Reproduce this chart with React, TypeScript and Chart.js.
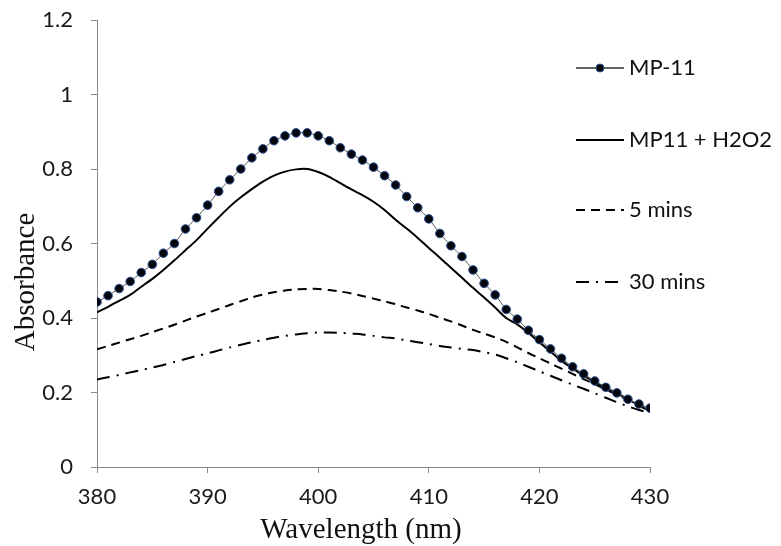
import React, { useEffect, useRef } from "react";
import { Chart, registerables } from "chart.js";

Chart.register(...registerables);

const wavelengths: number[] = [
  380, 381, 382, 383, 384, 385, 386, 387, 388, 389, 390, 391, 392, 393, 394, 395, 396, 397, 398, 399,
  400, 401, 402, 403, 404, 405, 406, 407, 408, 409, 410, 411, 412, 413, 414, 415, 416, 417, 418, 419,
  420, 421, 422, 423, 424, 425, 426, 427, 428, 429, 430,
];

const mp11: number[] = [
  0.443, 0.46, 0.479, 0.498, 0.522, 0.544, 0.574, 0.6, 0.639, 0.669, 0.703, 0.74, 0.771, 0.8, 0.83, 0.854,
  0.876, 0.889, 0.897, 0.897, 0.889, 0.876, 0.857, 0.84, 0.824, 0.805, 0.782, 0.757, 0.726, 0.696, 0.666,
  0.627, 0.594, 0.565, 0.529, 0.493, 0.462, 0.423, 0.397, 0.367, 0.342, 0.317, 0.292, 0.269, 0.25, 0.231,
  0.214, 0.199, 0.182, 0.169, 0.158,
];

const mp11H2O2: number[] = [
  0.415, 0.43, 0.446, 0.462, 0.484, 0.505, 0.529, 0.555, 0.582, 0.609, 0.64, 0.67, 0.699, 0.724, 0.746,
  0.766, 0.782, 0.793, 0.799, 0.8, 0.792, 0.779, 0.762, 0.745, 0.73, 0.712, 0.69, 0.664, 0.64, 0.615, 0.588,
  0.562, 0.535, 0.508, 0.481, 0.455, 0.428, 0.4, 0.383, 0.36, 0.335, 0.31, 0.285, 0.265, 0.245, 0.228, 0.213,
  0.198, 0.182, 0.165, 0.15,
];

const mins5: number[] = [
  0.316, 0.325, 0.334, 0.343, 0.352, 0.362, 0.372, 0.382, 0.393, 0.404, 0.414, 0.424, 0.435, 0.445, 0.455,
  0.463, 0.469, 0.474, 0.477, 0.478, 0.478, 0.475, 0.471, 0.466, 0.459, 0.452, 0.445, 0.437, 0.428, 0.42,
  0.411, 0.401, 0.391, 0.38, 0.368, 0.358, 0.348, 0.336, 0.321, 0.306, 0.292, 0.278, 0.264, 0.25, 0.236,
  0.222, 0.208, 0.194, 0.18, 0.166, 0.152,
];

const mins30: number[] = [
  0.235, 0.241, 0.247, 0.254, 0.26, 0.267, 0.274, 0.282, 0.29, 0.298, 0.305, 0.313, 0.321, 0.328, 0.335,
  0.341, 0.347, 0.352, 0.356, 0.359, 0.361, 0.361, 0.36, 0.358, 0.356, 0.352, 0.348, 0.345, 0.34, 0.335,
  0.33, 0.325, 0.321, 0.317, 0.314, 0.308, 0.302, 0.292, 0.281, 0.269, 0.257, 0.245, 0.233, 0.221, 0.21,
  0.198, 0.186, 0.174, 0.163, 0.153, 0.145,
];

const seriesLabels: string[] = ["MP-11", "MP11 + H2O2", "5 mins", "30 mins"];
const legendRows: number[] = [68, 140, 210, 282];
const xTitle = "Wavelength (nm)";
const yTitle = "Absorbance";

const toPoints = (ys: number[]) => ys.map((y, i) => ({ x: wavelengths[i], y }));

const TICK_FONT = { family: "Lato, 'Open Sans', sans-serif", size: 22 };
const TITLE_FONT = { family: "'Liberation Serif', 'Times New Roman', serif", size: 29 };

const legendPlugin = {
  id: "customLegend",
  afterDraw(chart: any) {
    const ctx = chart.ctx;
    const x0 = 576;
    const x1 = 624;
    chart.data.datasets.forEach((ds: any, i: number) => {
      const y = legendRows[i];
      ctx.save();
      ctx.strokeStyle = i === 0 ? "#333" : "#000";
      ctx.lineWidth = i === 0 ? 1.5 : 2;
      ctx.setLineDash(ds.borderDash || []);
      ctx.beginPath();
      ctx.moveTo(x0, y);
      ctx.lineTo(x1, y);
      ctx.stroke();
      ctx.setLineDash([]);
      if (i === 0) {
        ctx.beginPath();
        ctx.arc((x0 + x1) / 2, y, 4, 0, Math.PI * 2);
        ctx.fillStyle = ds.pointBackgroundColor;
        ctx.fill();
        ctx.lineWidth = 1;
        ctx.strokeStyle = ds.pointBorderColor;
        ctx.stroke();
      }
      ctx.fillStyle = "#111";
      ctx.font = `${TICK_FONT.size}px ${TICK_FONT.family}`;
      ctx.textBaseline = "middle";
      ctx.textAlign = "left";
      ctx.fillText(ds.label, x1 + 5, y);
      ctx.restore();
    });

    // axis titles
    ctx.save();
    ctx.fillStyle = "#111";
    ctx.font = `${TITLE_FONT.size}px ${TITLE_FONT.family}`;
    ctx.textAlign = "center";
    ctx.textBaseline = "middle";
    ctx.fillText(xTitle, 361, 530);
    ctx.translate(26, 282);
    ctx.rotate(-Math.PI / 2);
    ctx.fillText(yTitle, 0, 0);
    ctx.restore();
  },
};

export default function App() {
  const ref = useRef<HTMLCanvasElement | null>(null);

  useEffect(() => {
    if (!ref.current) return;
    const chart = new Chart(ref.current, {
      type: "line",
      data: {
        datasets: [
          {
            label: seriesLabels[0],
            data: toPoints(mp11),
            borderColor: "#555",
            borderWidth: 1,
            pointRadius: 4.3,
            pointBackgroundColor: "#05070f",
            pointBorderColor: "#2c4f91",
            pointBorderWidth: 1,
            tension: 0.3,
          },
          {
            label: seriesLabels[1],
            data: toPoints(mp11H2O2),
            borderColor: "#000",
            borderWidth: 2,
            pointRadius: 0,
            tension: 0.3,
          },
          {
            label: seriesLabels[2],
            data: toPoints(mins5),
            borderColor: "#000",
            borderWidth: 2,
            borderDash: [9, 6],
            pointRadius: 0,
            tension: 0.3,
          },
          {
            label: seriesLabels[3],
            data: toPoints(mins30),
            borderColor: "#000",
            borderWidth: 2,
            borderDash: [13, 7, 2, 7],
            pointRadius: 0,
            tension: 0.3,
          },
        ],
      },
      options: {
        responsive: false,
        animation: false,
        layout: { padding: { left: 0, right: 131, top: 20, bottom: 0 } },
        plugins: { legend: { display: false }, tooltip: { enabled: false } },
        scales: {
          x: {
            type: "linear",
            min: 380,
            max: 430,
            afterFit: (s: any) => {
              s.height = 79;
            },
            ticks: { stepSize: 10, font: TICK_FONT, color: "#1a1a1a", padding: 11 },
            grid: { drawOnChartArea: false, drawTicks: true, tickLength: 6, color: "#888" },
            border: { display: true, color: "#888", width: 1 },
          },
          y: {
            min: 0,
            max: 1.2,
            afterFit: (s: any) => {
              s.width = 97;
              s.paddingTop = 0;
              s.paddingBottom = 0;
            },
            ticks: {
              stepSize: 0.2,
              font: TICK_FONT,
              color: "#1a1a1a",
              padding: 18,
              callback: (v: any) => String(Math.round(Number(v) * 10) / 10),
            },
            grid: { drawOnChartArea: false, drawTicks: true, tickLength: 6, color: "#888" },
            border: { display: true, color: "#888", width: 1 },
          },
        },
      },
      plugins: [legendPlugin],
    });
    return () => chart.destroy();
  }, []);

  return (
    <div style={{ position: "fixed", left: 0, top: 0, width: 781, height: 546, background: "#fff" }}>
      <canvas ref={ref} width={781} height={546} style={{ display: "block" }} />
    </div>
  );
}
